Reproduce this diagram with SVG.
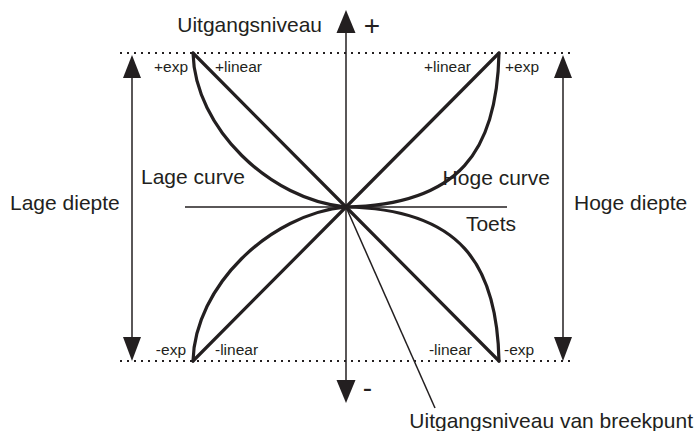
<svg xmlns="http://www.w3.org/2000/svg" width="694" height="431" viewBox="0 0 694 431">
<style>
.t{font-family:"Liberation Sans",Arial,sans-serif;fill:#231f20}
.big{font-size:21px}
.sm{font-size:15.5px}
.thin{stroke:#231f20;stroke-width:1.5;fill:none}
.thick{stroke:#231f20;stroke-width:3.2;fill:none;stroke-linecap:round;stroke-linejoin:round}
.dot{stroke:#231f20;stroke-width:2;stroke-dasharray:2 5;fill:none}
.head{fill:#231f20}
</style>
<rect width="694" height="431" fill="#fff"/>
<g id="guides">
<line class="dot" x1="120" y1="53" x2="574" y2="53"/>
<line class="dot" x1="120" y1="361" x2="574" y2="361"/>
</g>
<g id="axes">
<line class="thin" x1="346" y1="30" x2="346" y2="384"/>
<polygon class="head" points="346,10 336.5,33 355.5,33"/>
<polygon class="head" points="346,403 336.5,380 355.5,380"/>
<line class="thin" x1="185" y1="207" x2="507" y2="207"/>
<text class="t big" x="322" y="32" text-anchor="end">Uitgangsniveau</text>
<text class="t" x="372" y="35" font-size="28" text-anchor="middle">+</text>
<text class="t" x="367.5" y="397" font-size="28" text-anchor="middle">-</text>
<text class="t big" x="491" y="231" text-anchor="middle">Toets</text>
</g>
<g id="lage-diepte">
<line class="thin" x1="132" y1="75" x2="132" y2="340"/>
<polygon class="head" points="132,55 123,78 141,78"/>
<polygon class="head" points="132,361 123,337 141,337"/>
<text class="t big" x="10" y="210">Lage diepte</text>
</g>
<g id="hoge-diepte">
<line class="thin" x1="563" y1="75" x2="563" y2="340"/>
<polygon class="head" points="563,55 554,78 572,78"/>
<polygon class="head" points="563,361 554,337 572,337"/>
<text class="t big" x="574" y="210">Hoge diepte</text>
</g>
<g id="curves">
<line class="thick" x1="193" y1="53" x2="346" y2="207"/>
<line class="thick" x1="499" y1="53" x2="346" y2="207"/>
<line class="thick" x1="193" y1="361" x2="346" y2="207"/>
<line class="thick" x1="499" y1="361" x2="346" y2="207"/>
<path class="thick" d="M193,53 C195,128 270,200 346,207"/>
<path class="thick" d="M499,53 C497,150 460,205 346,207"/>
<path class="thick" d="M193,361 C195,286 270,214 346,207"/>
<path class="thick" d="M499,361 C497,264 460,209 346,207"/>
</g>
<g id="labels">
<text class="t sm" x="188" y="72" text-anchor="end">+exp</text>
<text class="t sm" x="215" y="72">+linear</text>
<text class="t sm" x="471" y="72" text-anchor="end">+linear</text>
<text class="t sm" x="505" y="72">+exp</text>
<text class="t sm" x="186" y="355" text-anchor="end">-exp</text>
<text class="t sm" x="215" y="355">-linear</text>
<text class="t sm" x="472" y="355" text-anchor="end">-linear</text>
<text class="t sm" x="504" y="355">-exp</text>
<text class="t big" x="141" y="184">Lage curve</text>
<text class="t big" x="550" y="185" text-anchor="end">Hoge curve</text>
</g>
<g id="breakpoint">
<line class="thin" x1="346" y1="207" x2="435" y2="408"/>
<text class="t big" x="693" y="428" text-anchor="end">Uitgangsniveau van breekpunt</text>
</g>
</svg>
